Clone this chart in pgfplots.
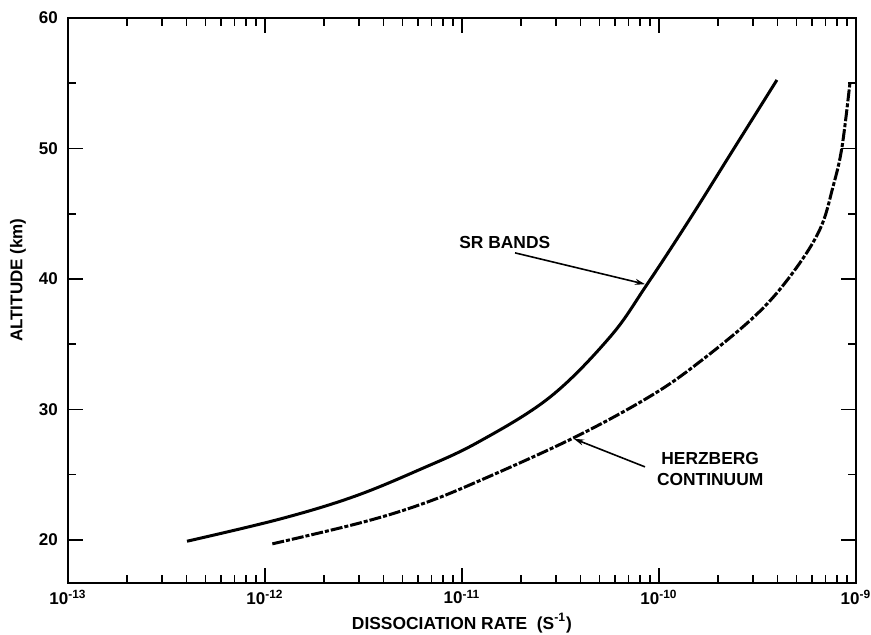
\documentclass[border=0pt]{standalone}
\usepackage{fontspec}
\setmainfont{Liberation Sans}
\usepackage{pgfplots}
\pgfplotsset{compat=1.18}
\usetikzlibrary{arrows.meta}
\begin{document}
\begin{tikzpicture}
\useasboundingbox (0,0) rectangle (435.5pt,317.5pt);
\begin{axis}[
  at={(34pt,26pt)}, anchor=south west,
  scale only axis, width=394pt, height=282.5pt,
  xmode=log, xmin=1e-13, xmax=1e-9, ymin=16.7, ymax=60,
  xtick={1e-13,1e-12,1e-11,1e-10,1e-9},
  xticklabels={10\textsuperscript{-13},10\textsuperscript{-12},10\textsuperscript{-11},10\textsuperscript{-10},10\textsuperscript{-9}},
  ytick={20,30,40,50,60}, minor ytick={25,35,45,55},
  /pgf/number format/assume math mode=true,
  xtick pos=both, ytick pos=both,
  tick align=inside,
  major tick length=7.5pt, minor tick length=4pt,
  every tick/.style={line width=0.8pt, black},
  axis line style={line width=1pt},
  tick label style={font=\fontsize{8.5}{10}\selectfont\bfseries},
  yticklabel style={xshift=-1.5pt},
  clip=false,
]
\addplot[black, line width=1.5pt, smooth, tension=0.6] coordinates {
(4.02e-13,19.9) (1.19e-12,21.6) (2.80e-12,23.3) (6.12e-12,25.4)
(1.21e-11,27.5) (2.80e-11,30.95) (5.64e-11,35.55) (8.67e-11,39.55)
(1.435e-10,44.6) (2.38e-10,49.9) (3.97e-10,55.25)
};
\addplot[black, line width=1.5pt, smooth, tension=0.6, dash pattern=on 6pt off 1pt on 2pt off 1pt] coordinates {
(1.09e-12,19.7) (3.03e-12,21.3) (6.12e-12,22.7) (1.19e-11,24.45)
(3.66e-11,27.8) (9.0e-11,31.0) (1.61e-10,33.65) (3.14e-10,37.3)
(4.79e-10,40.5) (6.56e-10,43.8) (7.64e-10,47.05) (8.49e-10,50.1)
(9.33e-10,55.1)
};
\node[font=\fontsize{8.7}{10}\selectfont\bfseries] at (axis cs:1.65e-11,42.76) {SR BANDS};
\draw[line width=0.8pt, -{Stealth[length=5pt,width=3pt]}] (axis cs:1.86e-11,42.0) -- (axis cs:8.5e-11,39.6);
\node[font=\fontsize{8.7}{10.5}\selectfont\bfseries, align=center] at (axis cs:1.82e-10,25.4) {HERZBERG\\CONTINUUM};
\draw[line width=0.8pt, -{Stealth[length=5pt,width=3pt]}] (axis cs:8.49e-11,25.6) -- (axis cs:3.7e-11,27.75);
\node[font=\fontsize{8.7}{10}\selectfont\bfseries] at (rel axis cs:0.5,-0.071) {DISSOCIATION RATE\ \ (S\textsuperscript{-1})};
\node[font=\fontsize{8.5}{10}\selectfont\bfseries, rotate=90] at (rel axis cs:-0.0635,0.536) {ALTITUDE (km)};
\end{axis}
\end{tikzpicture}
\end{document}
